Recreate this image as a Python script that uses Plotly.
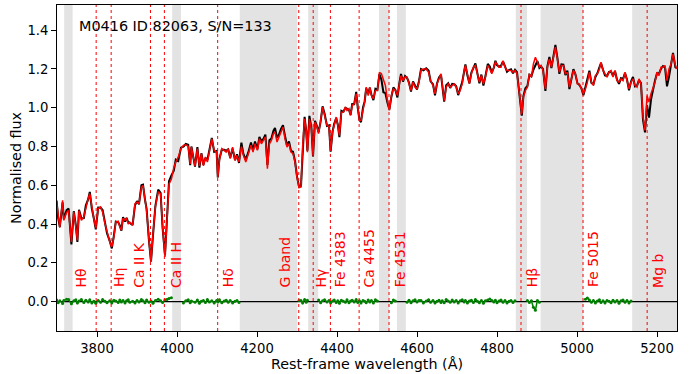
import plotly.graph_objects as go

# Rest-frame wavelength grid (Angstrom) and best-fit model flux
wavelength = [
    3699, 3703, 3707, 3714, 3717, 3724, 3729, 3736, 3742, 3747, 3751, 3755, 3761, 3767, 3772,
    3778, 3782, 3787, 3792, 3797, 3803, 3809, 3814, 3820, 3825, 3832, 3837, 3842, 3847, 3853,
    3857, 3861, 3865, 3870, 3874, 3878, 3882, 3889, 3895, 3900, 3905, 3911, 3915, 3920, 3924,
    3930, 3935, 3940, 3946, 3953, 3959, 3964, 3970, 3975, 3980, 3986, 3992, 3997, 4003,
    4010, 4016, 4022, 4028, 4033, 4036, 4045, 4051, 4056, 4061, 4066, 4071, 4076, 4081, 4087,
    4093, 4099, 4102, 4106, 4112, 4118, 4123, 4128, 4133, 4139, 4145, 4150, 4155, 4161, 4166,
    4172, 4178, 4185, 4190, 4195, 4201, 4206, 4211, 4216, 4221, 4226, 4231, 4236, 4241, 4245,
    4250, 4255, 4260, 4265, 4270, 4275, 4280, 4285, 4290, 4295, 4300, 4305,
    4310, 4314, 4319, 4323, 4326, 4331, 4336, 4340, 4345, 4350, 4354, 4359, 4364, 4369, 4375,
    4380, 4384, 4389, 4393, 4398, 4402, 4406, 4411, 4416, 4421, 4425, 4430, 4434, 4438, 4443,
    4448, 4452, 4456, 4460, 4465, 4469, 4473, 4478, 4482, 4486, 4491, 4496, 4501, 4506, 4511,
    4516, 4521, 4526, 4531, 4536, 4541, 4546, 4551, 4556, 4560, 4565, 4570, 4575, 4580, 4585,
    4590, 4595, 4600, 4605,
    4610, 4616, 4623, 4629, 4634, 4640, 4645, 4650, 4655, 4660, 4663, 4668, 4673, 4678, 4683,
    4688, 4693, 4698, 4703, 4708, 4713, 4718, 4721, 4726, 4731, 4736, 4741, 4746, 4751, 4756,
    4761, 4766, 4771, 4777, 4782, 4787, 4792, 4796, 4800, 4805, 4810, 4815, 4820, 4825, 4830,
    4835, 4840, 4845, 4850, 4855, 4859, 4862, 4866, 4871, 4876, 4881, 4886, 4891, 4896, 4901,
    4906,
    4910, 4915, 4921, 4926, 4931, 4936, 4941, 4946, 4951, 4956, 4961, 4966, 4971, 4976, 4981,
    4986, 4991, 4996, 5001, 5006, 5011, 5016, 5021, 5026, 5031, 5036, 5041, 5046, 5051, 5056,
    5060, 5065, 5070, 5075, 5080, 5085, 5090, 5095, 5100, 5105, 5110, 5115, 5120, 5125, 5130,
    5135, 5140, 5145, 5150, 5155, 5160, 5165, 5170, 5175, 5180, 5185, 5190, 5195, 5200, 5205,
    5210, 5215, 5220, 5225, 5230, 5235, 5240, 5246, 5250,
]

model_flux = [
    0.513, 0.436, 0.381, 0.522, 0.419, 0.460, 0.470, 0.307, 0.462, 0.385, 0.316, 0.470, 0.419, 0.436, 0.488,
    0.531, 0.557, 0.488, 0.428, 0.381, 0.479, 0.488, 0.462, 0.402, 0.359, 0.307, 0.282, 0.330, 0.410, 0.414,
    0.385, 0.368, 0.430, 0.420, 0.428, 0.400, 0.410, 0.393, 0.505, 0.513, 0.505, 0.590, 0.599, 0.531, 0.470,
    0.316, 0.204, 0.350, 0.488, 0.565, 0.557, 0.385, 0.230, 0.419, 0.605, 0.631, 0.690, 0.720, 0.745,
    0.789, 0.806, 0.809, 0.800, 0.710, 0.797, 0.700, 0.789, 0.700, 0.763, 0.700, 0.746, 0.720, 0.780, 0.840,
    0.780, 0.771, 0.642, 0.728, 0.789, 0.780, 0.771, 0.789, 0.737, 0.797, 0.728, 0.754, 0.720, 0.800, 0.754,
    0.720, 0.763, 0.806, 0.771, 0.814, 0.780, 0.840, 0.814, 0.831, 0.849, 0.685, 0.814, 0.831, 0.866, 0.875,
    0.823, 0.849, 0.875, 0.900, 0.840, 0.797, 0.814, 0.771, 0.763, 0.720, 0.642, 0.587,
    0.591, 0.797, 0.943, 0.883, 0.771, 0.943, 0.890, 0.754, 0.926, 0.900, 0.866, 0.934, 1.003, 0.960, 0.909,
    0.903, 0.780, 0.875, 0.909, 0.952, 0.909, 0.857, 0.977, 0.977, 1.003, 0.986, 0.995, 0.960, 1.012, 1.020,
    1.072, 1.003, 0.934, 0.934, 0.995, 1.029, 1.106, 1.063, 1.106, 1.063, 1.046, 1.089, 1.089, 1.183, 1.175,
    1.140, 1.115, 1.037, 0.986, 1.063, 1.097, 1.089, 1.063, 1.123, 1.166, 1.140, 1.158, 1.158, 1.123, 1.089,
    1.132, 1.106, 1.097, 1.132,
    1.195, 1.200, 1.200, 1.183, 1.140, 1.115, 1.072, 1.123, 1.149, 1.175, 1.123, 1.037, 1.106, 1.123, 1.106,
    1.115, 1.123, 1.106, 1.072, 1.089, 1.123, 1.192, 1.218, 1.175, 1.123, 1.175, 1.209, 1.218, 1.175, 1.132,
    1.166, 1.123, 1.158, 1.218, 1.200, 1.175, 1.209, 1.235, 1.226, 1.209, 1.209, 1.243, 1.209, 1.192, 1.192,
    1.192, 1.183, 1.192, 1.175, 1.089, 1.003, 0.969, 1.055, 1.089, 1.106, 1.175, 1.158, 1.226, 1.260, 1.235,
    1.209,
    1.218, 1.192, 1.097, 1.209, 1.252, 1.209, 1.260, 1.312, 1.252, 1.183, 1.218, 1.218, 1.175, 1.183, 1.106,
    1.149, 1.192, 1.175, 1.123, 1.123, 1.097, 1.072, 1.097, 1.132, 1.183, 1.132, 1.115, 1.166, 1.175, 1.200,
    1.235, 1.192, 1.175, 1.158, 1.183, 1.192, 1.158, 1.192, 1.140, 1.132, 1.149, 1.140, 1.183, 1.140, 1.097,
    1.132, 1.149, 1.115, 1.106, 1.149, 1.123, 0.952, 0.883, 1.063, 1.029, 1.072, 1.106, 1.132, 1.183, 1.166,
    1.209, 1.209, 1.218, 1.140, 1.200, 1.226, 1.278, 1.218, 1.200,
]

# Observed minus model
residual = [
    0.008, -0.006, 0.004, -0.010, 0.006, 0.012, 0.010, -0.012, 0.004, 0.009, -0.008, 0.003, 0.011, -0.005, 0.007,
    -0.003, 0.009, -0.007, 0.002, -0.009, 0.006, -0.004, 0.010, 0.001, -0.006, 0.004, -0.008, 0.007, 0.003, -0.005,
    0.008, -0.002, 0.006, -0.007, 0.004, 0.009, -0.004, 0.002, -0.008, 0.005, -0.003, 0.010, 0.004, -0.006, 0.008,
    -0.004, 0.003, -0.009, 0.006, 0.012, 0.004, -0.005, 0.009, 0.011, 0.016, 0.020, -0.015, 0.012, -0.020,
    0.005, -0.007, 0.004, 0.009, -0.006, 0.003, -0.004, 0.008, -0.009, 0.002, 0.006, -0.005, 0.010, -0.003, 0.004,
    -0.008, 0.006, -0.002, 0.009, -0.006, 0.003, 0.007, -0.004, 0.005, -0.008, 0.002, 0.006, -0.005, 0.020, 0.008,
    0.012, 0.005, 0.015, 0.010, 0.012, 0.006, 0.010, 0.014, 0.008, 0.012, 0.020, 0.018, 0.010, 0.015, 0.020,
    0.022, 0.012, 0.016, 0.010, 0.015, 0.008, 0.012, 0.006, 0.010, 0.005, 0.004, 0.006,
    0.006, -0.008, 0.010, -0.004, 0.007, 0.015, 0.008, -0.005, 0.006, 0.004, 0.008, -0.006, 0.004, 0.009, -0.003,
    0.006, -0.007, 0.003, 0.008, -0.005, 0.004, -0.009, 0.007, 0.002, -0.004, 0.009, -0.006, 0.003, 0.007, -0.002,
    0.010, -0.005, 0.004, -0.008, 0.006, 0.002, -0.006, 0.008, -0.003, 0.005, -0.007, 0.009, 0.003, -0.010, -0.030,
    -0.060, -0.040, -0.010, 0.005, -0.006, 0.008, 0.003, -0.010, 0.005, 0.008, -0.005, 0.006, -0.004, 0.007, -0.006,
    0.004, 0.009, -0.003, 0.006,
    0.005, -0.007, 0.003, 0.009, -0.004, 0.006, -0.008, 0.002, 0.007, -0.005, 0.004, -0.006, 0.010, 0.003, -0.004,
    0.008, -0.002, 0.005, -0.007, 0.004, 0.009, -0.003, 0.006, -0.008, 0.003, 0.007, -0.005, 0.010, 0.002, -0.006,
    0.005, -0.009, 0.004, 0.008, 0.013, 0.006, -0.003, 0.007, -0.006, 0.003, 0.008, -0.004, 0.005, -0.007, 0.002,
    0.006, -0.005, 0.004, 0.008, 0.015, 0.010, -0.010, 0.005, 0.012, 0.006, -0.005, 0.004, -0.030, -0.045, 0.006,
    -0.004,
    -0.005, 0.008, -0.010, 0.006, 0.010, -0.004, 0.008, 0.012, 0.005, -0.008, 0.006, 0.004, -0.006, 0.008, -0.010,
    0.005, 0.007, -0.003, 0.004, -0.006, 0.003, -0.008, 0.012, 0.018, 0.008, -0.004, 0.006, -0.007, 0.003, 0.009,
    -0.005, 0.004, -0.008, 0.006, 0.002, -0.006, 0.007, -0.003, 0.005, -0.009, 0.004, 0.008, -0.004, 0.006, -0.007,
    0.003, 0.010, -0.005, 0.008, -0.006, 0.004, -0.015, -0.010, -0.050, -0.080, -0.030, -0.010, 0.008, -0.006, 0.010,
    -0.008, 0.006, -0.010, -0.030, -0.040, 0.008, 0.005, -0.010, 0.004,
]

# Wavelength windows excluded from the fit (shaded, no residual shown)
masked_windows = [
    (3988, 4010), (4157, 4301), (4328, 4353), (4505, 4531),
    (4550, 4572), (4847, 4875), (4909, 5016), (5138, 5250),
]
# Shaded window where the residual is still plotted
shaded_only = [(3718, 3739)]

# Absorption features
feature_names = ["Hθ", "Hη", "Ca II K", "Ca II H", "Hδ", "G band", "Hγ",
                 "Fe 4383", "Ca 4455", "Fe 4531", "Hβ", "Fe 5015", "Mg b"]
feature_wave = [3797.9, 3835.4, 3933.7, 3968.5, 4101.7, 4304.4, 4340.5,
                4383.5, 4455.3, 4530.0, 4860.0, 5015.0, 5175.4]
feature_label_wave = [3761, 3855, 3903, 3996, 4128, 4271, 4359,
                      4407, 4480, 4557, 4888, 5039, 5201]

title_text = "M0416 ID 82063, S/N=133"

assert len(wavelength) == len(model_flux) == len(residual)

observed_flux = [m + r for m, r in zip(model_flux, residual)]


def in_mask(w):
    return any(lo <= w <= hi for lo, hi in masked_windows)


res_x, res_y = [], []
prev_kept = False
for w, r in zip(wavelength, residual):
    if in_mask(w):
        if prev_kept:
            res_x.append(None)
            res_y.append(None)
        prev_kept = False
        continue
    res_x.append(w)
    res_y.append(r)
    prev_kept = True

FONT = "DejaVu Sans"
fig = go.Figure()

fig.add_trace(go.Scatter(x=wavelength, y=observed_flux, mode="lines",
                         line=dict(color="black", width=2.0), hoverinfo="skip"))
fig.add_trace(go.Scatter(x=wavelength, y=model_flux, mode="lines",
                         line=dict(color="#ff0000", width=1.5), hoverinfo="skip"))
fig.add_trace(go.Scatter(x=res_x, y=res_y, mode="lines+markers",
                         line=dict(color="green", width=1.5),
                         marker=dict(color="green", size=3),
                         connectgaps=False, hoverinfo="skip"))

shapes = []
for lo, hi in masked_windows + shaded_only:
    shapes.append(dict(type="rect", xref="x", yref="paper", x0=lo, x1=hi, y0=0, y1=1,
                       fillcolor="#e3e3e3", line=dict(width=0), layer="below"))
for w in feature_wave:
    shapes.append(dict(type="line", xref="x", yref="paper", x0=w, x1=w, y0=0, y1=1,
                       line=dict(color="red", width=1, dash="dot"), layer="above"))
shapes.append(dict(type="line", xref="paper", yref="y", x0=0, x1=1, y0=0, y1=0,
                   line=dict(color="black", width=1.2), layer="below"))

annotations = []
for name, lw in zip(feature_names, feature_label_wave):
    annotations.append(dict(x=lw, y=0.062, xref="x", yref="y", text=name,
                            textangle=-90, showarrow=False, xanchor="center",
                            yanchor="bottom", font=dict(family=FONT, size=14, color="red")))
annotations.append(dict(x=0.033, y=0.937, xref="paper", yref="paper", text=title_text,
                        showarrow=False, xanchor="left", yanchor="middle",
                        font=dict(family=FONT, size=14.4, color="black")))

axis_common = dict(showline=True, mirror=True, linecolor="black", linewidth=1,
                   ticks="outside", ticklen=5, tickwidth=1.1, tickcolor="black",
                   showgrid=False, zeroline=False,
                   tickfont=dict(family=FONT, size=13.2, color="black"))

fig.update_layout(
    width=697, height=374,
    margin=dict(l=57, r=20, t=5, b=43),
    paper_bgcolor="white", plot_bgcolor="white",
    showlegend=False,
    shapes=shapes, annotations=annotations,
    xaxis=dict(range=[3700, 5250], tickvals=[3800, 4000, 4200, 4400, 4600, 4800, 5000, 5200],
               title=dict(text="Rest-frame wavelength (Å)", font=dict(family=FONT, size=14.3, color="black"),
                          standoff=0),
               **axis_common),
    yaxis=dict(range=[-0.152, 1.53], tickvals=[0.0, 0.2, 0.4, 0.6, 0.8, 1.0, 1.2, 1.4],
               tickformat=".1f",
               title=dict(text="Normalised flux", font=dict(family=FONT, size=14.3, color="black"),
                          standoff=2),
               **axis_common),
)

fig.write_html("out.html")
